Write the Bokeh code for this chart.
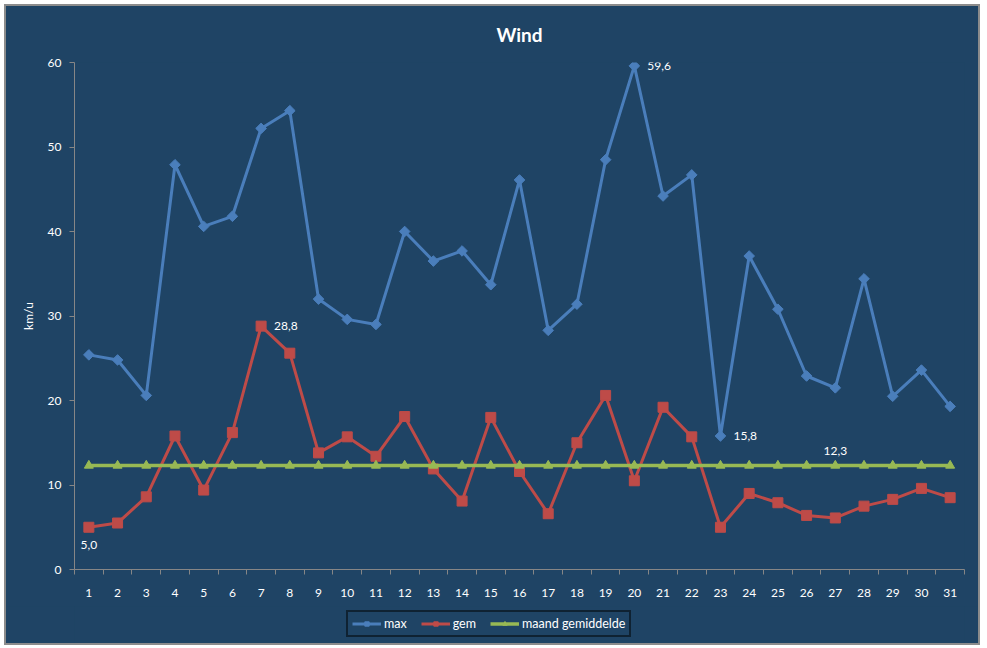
from bokeh.plotting import figure
from bokeh.models import Range1d, FixedTicker, Legend, LegendItem
from bokeh.layouts import column
from bokeh.core.properties import value
from bokeh.embed import file_html
from bokeh.resources import INLINE
import numpy as np

# daily wind data (km/u)
days = list(range(1, 32))
wind_max = [25.4, 24.8, 20.6, 47.9, 40.6, 41.8, 52.2, 54.3, 32.0, 29.6,
            29.0, 40.0, 36.5, 37.7, 33.7, 46.1, 28.3, 31.4, 48.5, 59.6,
            44.2, 46.7, 15.8, 37.1, 30.8, 22.9, 21.5, 34.4, 20.5, 23.6, 19.3]
wind_gem = [5.0, 5.5, 8.6, 15.8, 9.4, 16.2, 28.8, 25.6, 13.8, 15.7,
            13.4, 18.1, 11.9, 8.1, 18.0, 11.6, 6.6, 15.0, 20.6, 10.5,
            19.2, 15.7, 5.0, 9.0, 7.9, 6.4, 6.1, 7.5, 8.3, 9.6, 8.5]
maand_gem = 12.3
maand_gemiddelde = [maand_gem] * len(days)
series_names = ["max", "gem", "maand gemiddelde"]

BG = "#1F4465"
BLUE = "#4A7EBB"
RED = "#BE4B48"
GREEN = "#98B954"
AXIS = "#868686"
FONT = "Lato"

def fmt(v):
    return f"{v:.1f}".replace(".", ",")

p = figure(width=972, height=600, x_range=Range1d(0.5, 31.5), y_range=Range1d(0, 60),
           output_backend="svg", toolbar_location=None,
           min_border_left=68, min_border_right=14, min_border_top=56, min_border_bottom=37)
p.background_fill_color = BG
p.border_fill_color = BG
p.outline_line_color = None
p.grid.visible = False

p.title.text = "Wind"
p.title.align = "center"
p.title.vertical_align = "top"
p.title.text_color = "white"
p.title.text_font = FONT
p.title.text_font_size = "19px"
p.title.text_font_style = "bold"
p.title.standoff = 30

xa = p.xaxis[0]
xa.ticker = FixedTicker(ticks=days, minor_ticks=[d - 0.5 for d in days] + [31.5])
xa.major_tick_line_color = None
xa.major_tick_out = 0
xa.minor_tick_in = 0
xa.minor_tick_out = 5
xa.minor_tick_line_color = AXIS
xa.axis_line_color = AXIS
xa.major_label_standoff = 14

ya = p.yaxis[0]
ya.ticker = FixedTicker(ticks=[0, 10, 20, 30, 40, 50, 60])
ya.major_tick_in = 0
ya.major_tick_out = 5
ya.major_tick_line_color = AXIS
ya.minor_tick_line_color = None
ya.axis_line_color = AXIS
ya.major_label_standoff = 8
ya.axis_label = "km/u"
ya.axis_label_standoff = 9
ya.axis_label_text_font_style = "normal"
ya.axis_label_text_color = "white"
ya.axis_label_text_font = FONT
ya.axis_label_text_font_size = "12px"

for ax in (xa, ya):
    ax.major_label_text_color = "white"
    ax.major_label_text_font = FONT
    ax.major_label_text_font_size = "12px"

styles = [(BLUE, "square", 7.5, np.pi / 4, 3),
          (RED, "square", 10, 0, 3),
          (GREEN, "triangle", 9, 0, 3.5)]
series = [wind_max, wind_gem, maand_gemiddelde]

for vals, (color, marker, size, angle, lw) in zip(series, styles):
    p.line(days, vals, line_color=color, line_width=lw)
    p.scatter(days, vals, marker=marker, size=size, angle=angle,
              fill_color=color, line_color=color)

# data labels
i_max = int(np.argmax(wind_max))
i_min = int(np.argmin(wind_max))
g_max = int(np.argmax(wind_gem))
g_min = int(np.argmin(wind_gem))
right_x = [days[i_max], days[i_min], days[g_max]]
right_y = [wind_max[i_max], wind_max[i_min], wind_gem[g_max]]
p.text(right_x, right_y, text=[fmt(v) for v in right_y], x_offset=13,
       text_align="left", text_baseline="middle", text_color="white",
       text_font=value(FONT), text_font_size="12px")
p.text([days[g_min]], [wind_gem[g_min]], text=[fmt(wind_gem[g_min])], y_offset=14,
       text_align="center", text_baseline="top", text_color="white",
       text_font=value(FONT), text_font_size="12px")
p.text([days[26]], [maand_gemiddelde[26]], text=[fmt(maand_gem)], y_offset=-11,
       text_align="center", text_baseline="bottom", text_color="white",
       text_font=value(FONT), text_font_size="12px")

# legend strip below the chart (side-panel legends misbehave here);
# its renderers fall outside this strip's range, only the legend shows
leg = figure(width=972, height=37, x_range=Range1d(0.5, 31.5), y_range=Range1d(-200, -100),
             output_backend="svg", toolbar_location=None,
             x_axis_type=None, y_axis_type=None, min_border=0)
leg.background_fill_color = BG
leg.border_fill_color = BG
leg.outline_line_color = None
leg.grid.visible = False

items = []
for name, vals, (color, marker, size, angle, lw) in zip(series_names, series, styles):
    lr = leg.line(days, vals, line_color=color, line_width=lw)
    sr = leg.scatter(days, vals, marker=marker, size=size, angle=angle,
                     fill_color=color, line_color=color)
    items.append(LegendItem(label=name, renderers=[lr, sr]))

legend = Legend(items=items, location=(272, 6), orientation="horizontal")
legend.background_fill_alpha = 0
legend.border_line_color = "black"
legend.border_line_width = 2
legend.label_text_color = "white"
legend.label_text_font = FONT
legend.label_text_font_size = "12.5px"
legend.glyph_width = 29
legend.glyph_height = 11
legend.label_height = 11
legend.label_standoff = 3
legend.spacing = 14
legend.padding = 4
legend.margin = 0
leg.add_layout(legend, "center")

layout = column(p, leg, spacing=0)
layout.styles = {"margin-left": "4px", "margin-top": "4px",
                 "border": "2px solid #8C8C8C", "background-color": BG}

open("out.html", "w").write(file_html(layout, INLINE))
